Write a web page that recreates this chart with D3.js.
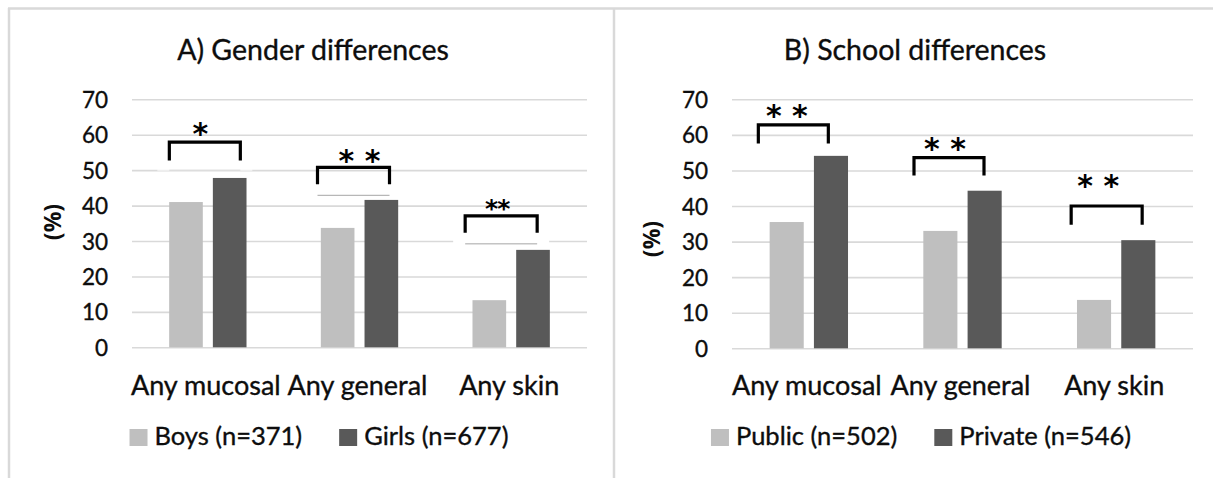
<!DOCTYPE html>
<html>
<head>
<meta charset="utf-8">
<script src="https://cdn.jsdelivr.net/npm/d3@7/dist/d3.min.js"></script>
<style>
  html, body { margin: 0; padding: 0; background: #ffffff; }
  svg { display: block; font-family: Lato, "Open Sans", sans-serif; }
  .txt { fill: #0d0d0d; stroke: #0d0d0d; stroke-width: 0.35px; }
</style>
</head>
<body>
<svg id="chart" width="1213" height="478"></svg>
<script>
// ---------------- DATA ----------------
const categories = ["Any mucosal", "Any general", "Any skin"];
const yTicks = [0, 10, 20, 30, 40, 50, 60, 70];

const titleA = "A) Gender differences";
const seriesA = ["Boys (n=371)", "Girls (n=677)"];
const boys  = [41.0, 33.7, 13.3];
const girls = [47.8, 41.6, 27.5];
const sigA        = ["*", "* *", "**"];
const bracketTopA = [57.9, 50.8, 37.1];
const bracketLegA = [52.7, 46.0, 32.3];
const starA       = [62.3, 54.6, 41.0];
const boxLineA    = [50.0, 42.9, 29.2];   // thin text-box edge below each bracket

const titleB = "B) School differences";
const seriesB = ["Public (n=502)", "Private (n=546)"];
const publicS  = [35.5, 33.0, 13.6];
const privateS = [54.1, 44.3, 30.4];
const sigB        = ["* *", "* *", "* *"];
const bracketTopB = [62.8, 53.6, 40.0];
const bracketLegB = [57.6, 48.6, 34.7];
const starB       = [67.3, 58.1, 47.7];

// ---------------- STYLE / LAYOUT ----------------
const colors = ["#bfbfbf", "#595959"];
const svg = d3.select("#chart");

// outer frame lines
svg.append("line").attr("x1", 8).attr("x2", 1213).attr("y1", 8.5).attr("y2", 8.5)
  .attr("stroke", "#d9d9d9").attr("stroke-width", 2.5);
svg.append("line").attr("x1", 9).attr("x2", 9).attr("y1", 8).attr("y2", 478)
  .attr("stroke", "#d9d9d9").attr("stroke-width", 2.5);
svg.append("line").attr("x1", 614).attr("x2", 614).attr("y1", 8).attr("y2", 478)
  .attr("stroke", "#d9d9d9").attr("stroke-width", 2.5);

function drawPanel(p) {
  const g = svg.append("g");
  const y = d3.scaleLinear().domain([0, 70]).range([p.bottom, p.top]);
  const x0 = d3.scaleBand().domain(categories).range([p.left, p.right])
    .paddingInner(0.49).paddingOuter(0.245);
  const x1 = d3.scaleBand().domain(p.series).range([0, x0.bandwidth()]).paddingInner(0.23);
  const cx = c => x0(c) + x0.bandwidth() / 2;

  // title
  g.append("text").attr("class", "txt").attr("x", p.center).attr("y", 60).attr("text-anchor", "middle")
    .attr("font-size", 28.5).text(p.title);

  // gridlines + y tick labels via axis
  const yAxis = d3.axisLeft(y).tickValues(yTicks).tickSize(-(p.right - p.left)).tickPadding(24)
    .tickFormat(d3.format("d"));
  const ax = g.append("g").attr("transform", `translate(${p.left},0)`).call(yAxis);
  ax.select(".domain").remove();
  ax.selectAll(".tick line").attr("stroke", "#d9d9d9").attr("stroke-width", 1.6);
  ax.selectAll(".tick text").attr("class", "txt").attr("font-size", 22.5)
    .attr("font-family", "Lato, sans-serif").attr("dy", "0.36em");

  // y title
  g.append("text").attr("transform", `translate(${p.ytX},${p.ytY}) rotate(-90)`)
    .attr("text-anchor", "middle").attr("dominant-baseline", "central")
    .attr("font-family", "'Open Sans', sans-serif")
    .attr("font-size", 23).attr("font-weight", 700).attr("fill", "#0d0d0d").text("(%)");

  // bars
  const rows = categories.map((c, i) => ({ c, vals: p.values.map(v => v[i]) }));
  const grp = g.selectAll(".grp").data(rows).join("g").attr("transform", d => `translate(${x0(d.c)},0)`);
  grp.selectAll("rect").data(d => d.vals.map((v, k) => ({ s: p.series[k], v, k }))).join("rect")
    .attr("x", d => x1(d.s)).attr("width", x1.bandwidth())
    .attr("y", d => y(d.v)).attr("height", d => y(0) - y(d.v))
    .attr("fill", d => colors[d.k]);

  // category labels
  g.selectAll(".cat").data(categories).join("text").attr("class", "txt")
    .attr("x", c => cx(c) - 2).attr("y", 395).attr("text-anchor", "middle")
    .attr("font-size", 27).text(c => c);

  // text-box artefacts (panel A only)
  if (p.boxLine) {
    categories.forEach((c, i) => {
      const bx0 = cx(c) + p.bdx0[i], bx1 = cx(c) + p.bdx1[i];
      g.append("rect").attr("x", bx0 - 12).attr("width", bx1 - bx0 + 24)
        .attr("y", y(p.bLeg[i]) + 1).attr("height", y(p.boxLine[i]) - y(p.bLeg[i]))
        .attr("fill", "#ffffff").attr("opacity", p.boxOpacity[i]);
      g.append("line").attr("x1", bx0).attr("x2", bx1)
        .attr("y1", y(p.boxLine[i])).attr("y2", y(p.boxLine[i]))
        .attr("stroke", "#a6a6a6").attr("stroke-width", 1).attr("opacity", p.lineOpacity[i]);
    });
  }

  // significance brackets
  categories.forEach((c, i) => {
    const bx0 = cx(c) + p.bdx0[i], bx1 = cx(c) + p.bdx1[i];
    const path = d3.path();
    path.moveTo(bx0, y(p.bLeg[i]));
    path.lineTo(bx0, y(p.bTop[i]));
    path.lineTo(bx1, y(p.bTop[i]));
    path.lineTo(bx1, y(p.bLeg[i]));
    g.append("path").attr("d", path.toString()).attr("fill", "none")
      .attr("stroke", "#000").attr("stroke-width", 3.2).attr("stroke-linejoin", "miter");
    g.append("text").attr("x", cx(c) + p.sdx[i]).attr("y", y(p.star[i]))
      .attr("text-anchor", "middle")
      .attr("font-family", "'DejaVu Sans', sans-serif").attr("font-weight", "bold")
      .attr("font-size", p.starSize[i]).attr("letter-spacing", p.starSpacing[i])
      .attr("fill", "#000").attr("dy", "0.58em").text(p.sig[i]);
  });

  // legend
  const lg = g.append("g");
  let xPos = 0;
  p.series.forEach((s, k) => {
    const it = lg.append("g").attr("transform", `translate(${xPos},0)`);
    it.append("rect").attr("x", 0).attr("y", -16).attr("width", 18).attr("height", 17).attr("fill", colors[k]);
    const t = it.append("text").attr("class", "txt").attr("x", 25).attr("y", 0).attr("font-size", 25.5)
      .text(s);
    xPos += 25 + t.node().getComputedTextLength() + 37;
  });
  const total = xPos - 37;
  lg.attr("transform", `translate(${p.center + 6 - total / 2},445)`);
}

drawPanel({
  title: titleA, series: seriesA, values: [boys, girls],
  left: 132, right: 587, top: 99.3, bottom: 347.3, center: 313,
  ytX: 52, ytY: 222,
  sig: sigA, bTop: bracketTopA, bLeg: bracketLegA, star: starA,
  bdx0: [-38.5, -42, -46], bdx1: [32.5, 30, 26], sdx: [-7.5, 0, -14],
  starSize: [30, 30, 25], starSpacing: [0, 0, -1],
  boxLine: boxLineA, boxOpacity: [0.55, 1, 1], lineOpacity: [0.35, 1, 1]
});

drawPanel({
  title: titleB, series: seriesB, values: [publicS, privateS],
  left: 732, right: 1193, top: 99.3, bottom: 348.3, center: 915,
  ytX: 651, ytY: 239,
  sig: sigB, bTop: bracketTopB, bLeg: bracketLegB, star: starB,
  bdx0: [-50.5, -48.5, -45], bdx1: [19.5, 21.5, 26], sdx: [-22, -17.5, -18],
  starSize: [30, 30, 30], starSpacing: [0, 0, 0],
  boxLine: null
});
</script>
</body>
</html>
